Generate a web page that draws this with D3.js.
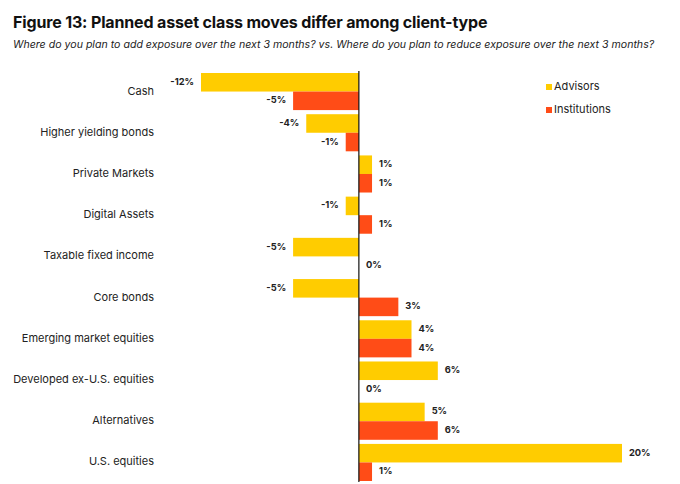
<!DOCTYPE html>
<html>
<head>
<meta charset="utf-8">
<script src="https://cdn.jsdelivr.net/npm/d3@7"></script>
<style>
  body { margin: 0; background: #fff; }
  svg { font-family: Inter, "Noto Sans", sans-serif; }
</style>
</head>
<body>
<svg width="680" height="484"></svg>
<script>
const categories = ['Cash', 'Higher yielding bonds', 'Private Markets', 'Digital Assets',
  'Taxable fixed income', 'Core bonds', 'Emerging market equities',
  'Developed ex-U.S. equities', 'Alternatives', 'U.S. equities']
const advisors = [-12, -4, 1, -1, -5, -5, 4, 6, 5, 20]
const institutions = [-5, -1, 1, 1, 0, 3, 4, 0, 6, 1]
const seriesNames = ['Advisors', 'Institutions']
const colors = ['#FFCC00', '#FF4C17']

const svg = d3.select('svg')

svg.append('text')
  .attr('x', 13).attr('y', 28)
  .attr('font-size', 16).attr('font-weight', 700).attr('fill', '#111')
  .attr('letter-spacing', -0.15)
  .text('Figure 13: Planned asset class moves differ among client-type')

svg.append('text')
  .attr('x', 13).attr('y', 48)
  .attr('font-size', 10.6).attr('font-style', 'italic').attr('fill', '#222')
  .text('Where do you plan to add exposure over the next 3 months? vs. Where do you plan to reduce exposure over the next 3 months?')

const x = d3.scaleLinear().domain([-12, 20]).range([201, 622])
const y = d3.scaleBand().domain(categories).range([73, 481]).paddingInner(0.1)
const sub = d3.scaleBand().domain(seriesNames).range([0, y.bandwidth()])

const rows = categories.map((c, i) => ({ cat: c, vals: [advisors[i], institutions[i]] }))

const groups = svg.selectAll('.row').data(rows).enter()
  .append('g')
  .attr('transform', d => `translate(0,${y(d.cat)})`)

groups.selectAll('rect').data(d => d.vals).enter()
  .append('rect')
  .attr('x', d => x(Math.min(0, d)))
  .attr('y', (d, i) => sub(seriesNames[i]))
  .attr('width', d => Math.abs(x(d) - x(0)))
  .attr('height', sub.bandwidth())
  .attr('fill', (d, i) => colors[i])

groups.selectAll('.val').data(d => d.vals).enter()
  .append('text')
  .attr('class', 'val')
  .attr('x', d => d < 0 ? x(d) - 7 : x(d) + 7)
  .attr('y', (d, i) => sub(seriesNames[i]) + sub.bandwidth() / 2)
  .attr('text-anchor', d => d < 0 ? 'end' : 'start')
  .attr('dominant-baseline', 'middle')
  .attr('font-size', 9.3).attr('font-weight', 700).attr('fill', '#222')
  .text(d => d + '%')

svg.selectAll('.cat').data(categories).enter()
  .append('text')
  .attr('x', 154)
  .attr('y', d => y(d) + y.bandwidth() / 2)
  .attr('text-anchor', 'end')
  .attr('dominant-baseline', 'middle')
  .attr('font-size', 11).attr('fill', '#222')
  .text(d => d)

svg.append('line')
  .attr('x1', x(0)).attr('x2', x(0))
  .attr('y1', 71).attr('y2', 482)
  .attr('stroke', '#111').attr('stroke-width', 1.2)

const legend = svg.selectAll('.leg').data(seriesNames).enter()
  .append('g')
  .attr('transform', (d, i) => `translate(546,${87 + i * 23})`)
legend.append('rect')
  .attr('x', 0).attr('y', -3).attr('width', 6).attr('height', 6)
  .attr('fill', (d, i) => colors[i])
legend.append('text')
  .attr('x', 8).attr('y', 0)
  .attr('dominant-baseline', 'middle')
  .attr('font-size', 11).attr('fill', '#222')
  .text(d => d)
</script>
</body>
</html>
